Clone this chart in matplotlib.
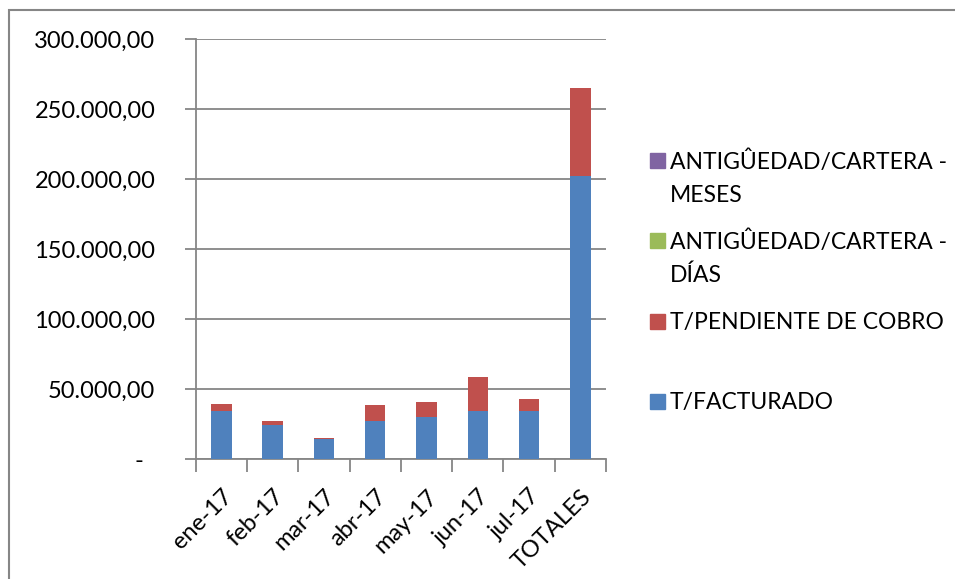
import matplotlib.pyplot as plt
import numpy as np
from matplotlib.patches import Rectangle
from matplotlib.ticker import FuncFormatter, FixedLocator
from matplotlib.transforms import ScaledTranslation

plt.rcParams['font.family'] = ['Lato', 'DejaVu Sans']

meses = ['ene-17', 'feb-17', 'mar-17', 'abr-17', 'may-17', 'jun-17', 'jul-17', 'TOTALES']
facturado = [34700, 24600, 14600, 27500, 29900, 34700, 34200, 202500]
pendiente = [4800, 2900, 900, 11500, 11000, 24200, 8900, 62250]
antig_dias = [0, 0, 0, 0, 0, 0, 0, 0]
antig_meses = [0, 0, 0, 0, 0, 0, 0, 0]

series = [
    ('T/FACTURADO', facturado, '#4F81BD'),
    ('T/PENDIENTE DE COBRO', pendiente, '#C0504D'),
    ('ANTIGÛEDAD/CARTERA -\nDÍAS', antig_dias, '#9BBB59'),
    ('ANTIGÛEDAD/CARTERA -\nMESES', antig_meses, '#8064A2'),
]

gris = '#868686'
W, H = 955, 579
fig = plt.figure(figsize=(W / 100, H / 100), dpi=100)
ax = fig.add_axes([195.7 / W, 1 - 459.3 / H, (606 - 195.7) / W, (459.3 - 39) / H])

x = np.arange(len(meses))
base = np.zeros(len(meses))
for nombre, vals, color in series:
    ax.bar(x, vals, width=0.4, bottom=base, color=color, zorder=3)
    base = base + np.array(vals)

ax.set_xlim(-0.5, len(meses) - 0.5)
ax.set_ylim(0, 300000)
ax.set_yticks(np.arange(0, 300001, 50000))


def miles(v, pos):
    if v == 0:
        return '-'
    s = '{:,.2f}'.format(v)
    return s.replace(',', 'X').replace('.', ',').replace('X', '.')


ax.yaxis.set_major_formatter(FuncFormatter(miles))
ax.grid(axis='y', color=gris, linewidth=1.3, zorder=0)
ax.tick_params(axis='y', direction='out', length=8, width=1.3, color=gris,
               pad=21, labelsize=17)

ax.set_xticks(x)
ax.set_xticklabels(meses, rotation=45, ha='right', rotation_mode='anchor', fontsize=17)
ax.xaxis.set_minor_locator(FixedLocator(np.arange(-0.5, len(meses), 1)))
ax.tick_params(axis='x', which='major', length=0, pad=19)
ax.tick_params(axis='x', which='minor', direction='out', length=9, width=1.3, color=gris)

for lado in ['top', 'right']:
    ax.spines[lado].set_visible(False)
for lado in ['left', 'bottom']:
    ax.spines[lado].set_color(gris)
    ax.spines[lado].set_linewidth(1.3)

# el guion del cero queda algo más a la izquierda
lbl0 = ax.get_yticklabels()[0]
lbl0.set_transform(lbl0.get_transform() + ScaledTranslation(-0.12, 0, fig.dpi_scale_trans))

# leyenda a mano, en orden inverso
centros = [160, 240, 321, 401]
for (nombre, vals, color), yc in zip(series[::-1], centros):
    fig.patches.append(Rectangle((650 / W, 1 - (yc + 7.5) / H), 15 / W, 15 / H,
                                 transform=fig.transFigure, color=color))
    for i, linea in enumerate(nombre.split('\n')):
        fig.text(670 / W, 1 - (yc + 8.5 + 34 * i) / H, linea, fontsize=16.5,
                 va='baseline', ha='left')

# marco del gráfico
fig.patches.append(Rectangle((9 / W, -0.1), 1.2, 1 - 10 / H + 0.1, transform=fig.transFigure,
                             fill=False, edgecolor=gris, linewidth=1.5))

fig.savefig('out.png', dpi=100)
